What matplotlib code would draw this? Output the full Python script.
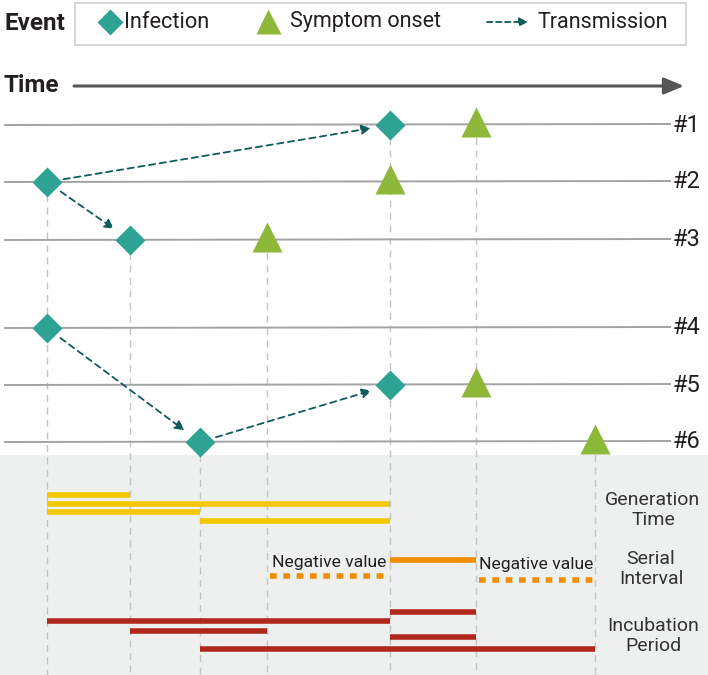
import matplotlib
matplotlib.use("Agg")
import matplotlib.pyplot as plt
from matplotlib.patches import Rectangle

plt.rcParams['font.family'] = ['Roboto', 'DejaVu Sans']

# ---- data (time positions of events, arbitrary time units) ----
cases = ["#1", "#2", "#3", "#4", "#5", "#6"]
row_y = [125, 182, 240, 328, 385, 442]          # row positions (layout)
infection = [390, 47, 130, 47, 390, 200]
symptom = [476, 390, 267, None, 476, 595]
# transmission pairs (infector index, infectee index)
transmission = [(1, 0), (1, 2), (3, 5), (5, 4)]

# intervals shown in the lower panel
gen_time = [(47, 130), (47, 390), (47, 200), (200, 390)]
serial_pos = [(390, 476)]
serial_neg = [(267, 390), (476, 595)]
incubation = [(390, 476), (47, 390), (130, 267), (390, 476), (200, 595)]

# layout of the lower panel
gen_y = [495, 504, 512, 521]
serial_pos_y = [560]
serial_neg_y = [576, 580]
neg_text_y = [563, 565]
incub_y = [612, 621, 631, 637, 649]

TEAL = "#2ea393"
GREEN = "#8db83a"
ARROW = "#0e5b5c"
YELLOW = "#f4c800"
ORANGE = "#f28c00"
DARKRED = "#b0271c"
ROWGRAY = "#a3a3a3"
VGRAY = "#c4c4c4"
TXT = "#231f20"

fig = plt.figure(figsize=(7.08, 6.75), dpi=100)
ax = fig.add_axes([0, 0, 1, 1])
ax.set_xlim(0, 708)
ax.set_ylim(675, 0)
ax.axis("off")

# lower gray panel
ax.add_patch(Rectangle((0, 455), 708, 220, facecolor="#eef0ef", edgecolor="none", zorder=0))

# legend box
ax.add_patch(Rectangle((75, 3), 611, 42, facecolor="white", edgecolor="#cfcfcf", lw=1.2, zorder=1))
ax.text(4, 23, "Event", fontsize=17.5, fontweight="bold", va="center", ha="left", color=TXT)
ax.plot([110], [22], marker="D", markersize=13, color=TEAL, mec="none", zorder=3)
ax.text(124, 22, "Infection", fontsize=15.7, va="center", ha="left", color=TXT)
ax.plot([268], [21], marker="^", markersize=18, color=GREEN, mec="none", zorder=3)
ax.text(290, 22, "Symptom onset", fontsize=15.5, va="center", ha="left", color=TXT)
ax.annotate("", xy=(528, 22), xytext=(487, 22),
            arrowprops=dict(arrowstyle="-|>,head_length=0.5,head_width=0.25", color=ARROW,
                            lw=1.3, linestyle=(0, (3, 2)), shrinkA=0, shrinkB=0))
ax.text(537, 22, "Transmission", fontsize=15.5, va="center", ha="left", color=TXT)

# time arrow
ax.text(4, 85, "Time", fontsize=17.5, fontweight="bold", va="center", ha="left", color=TXT)
ax.annotate("", xy=(684, 86), xytext=(74, 86),
            arrowprops=dict(arrowstyle="-|>,head_length=1.2,head_width=0.5", color="#555555",
                            lw=2.2, shrinkA=0, shrinkB=0))

# vertical dashed guide lines (one per distinct time, from the highest event down)
tops = {}
for i in range(len(cases)):
    for t in (infection[i], symptom[i]):
        if t is not None:
            tops[t] = min(tops.get(t, 1e9), row_y[i])
for t, y0 in tops.items():
    ax.plot([t, t], [y0, 675], color=VGRAY, lw=1, ls=(0, (5, 4)), zorder=1)

# case rows
for i, c in enumerate(cases):
    ax.plot([5, 670], [row_y[i], row_y[i] - 1], color=ROWGRAY, lw=1.4, zorder=2)
    ax.text(673, row_y[i], c, fontsize=17, va="center", ha="left", color=TXT)

# transmission arrows
for a, b in transmission:
    ax.annotate("", xy=(infection[b], row_y[b]), xytext=(infection[a], row_y[a]),
                arrowprops=dict(arrowstyle="-|>,head_length=0.55,head_width=0.28", color=ARROW,
                                lw=1.3, linestyle=(0, (3.5, 2.5)), shrinkA=12, shrinkB=14),
                zorder=3)

# markers
for i in range(len(cases)):
    ax.plot([infection[i]], [row_y[i]], marker="D", markersize=15, color=TEAL, mec="none", zorder=4)
    if symptom[i] is not None:
        ax.plot([symptom[i]], [row_y[i] - 3], marker="^", markersize=22, color=GREEN, mec="none", zorder=4)

LBL = dict(fontsize=14, ha="center", va="center", color="#333333", linespacing=1.1)

# generation time
for (x0, x1), y in zip(gen_time, gen_y):
    ax.plot([x0, x1], [y, y], color=YELLOW, lw=4, solid_capstyle="butt", zorder=3)
ax.text(653, 510, "Generation\nTime", **LBL)

# serial interval
for (x0, x1), y in zip(serial_pos, serial_pos_y):
    ax.plot([x0, x1], [y, y], color=ORANGE, lw=4, solid_capstyle="butt", zorder=3)
for (x0, x1), y, ty in zip(serial_neg, serial_neg_y, neg_text_y):
    ax.plot([x0 + 3, x1 - 2], [y, y], color=ORANGE, lw=4, ls=(0, (1.2, 1.2)),
            dash_capstyle="butt", zorder=3)
    ax.text((x0 + x1) / 2 + 1, ty, "Negative value", fontsize=12.6, ha="center", va="center",
            color=TXT, zorder=4)
ax.text(651, 569, "Serial\nInterval", **LBL)

# incubation period
for (x0, x1), y in zip(incubation, incub_y):
    ax.plot([x0, x1], [y, y], color=DARKRED, lw=4, solid_capstyle="butt", zorder=3)
ax.text(653, 636, "Incubation\nPeriod", **LBL)

fig.savefig("out.png", dpi=100)
